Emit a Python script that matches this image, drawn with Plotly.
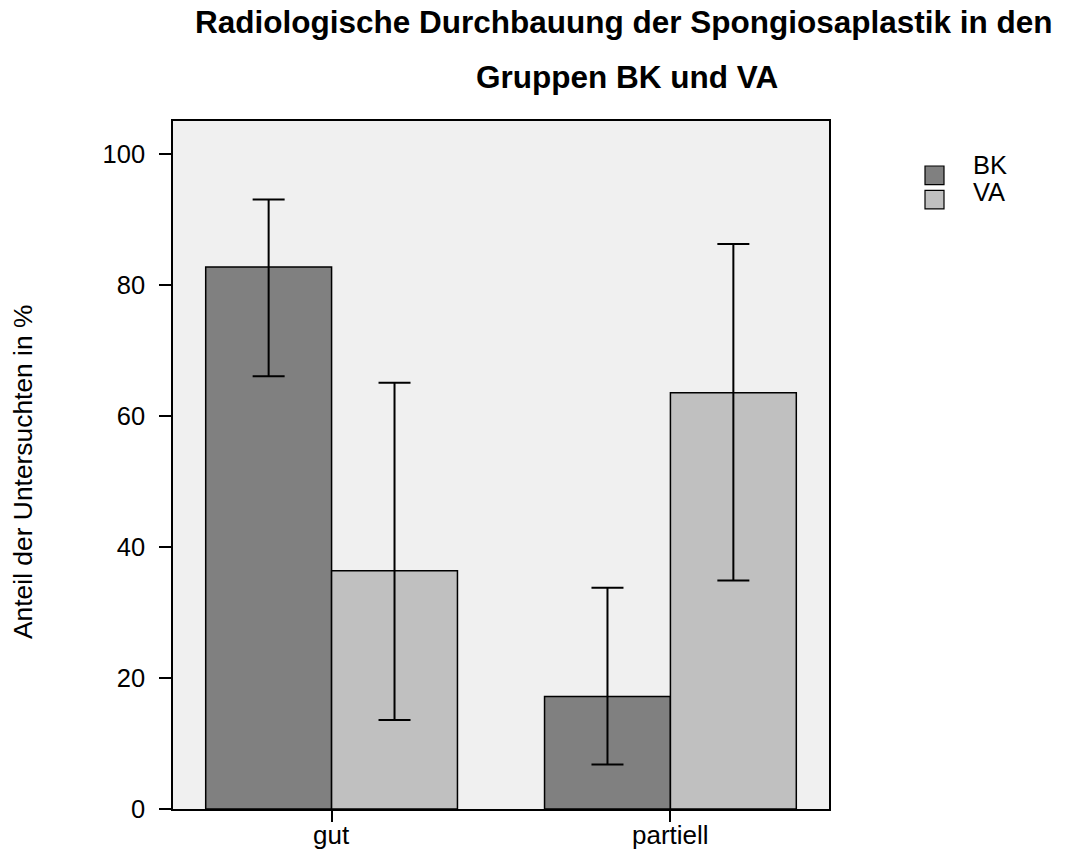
import plotly.graph_objects as go

# Kategorien und Gruppen
kategorien = ["gut", "partiell"]
gruppen = ["BK", "VA"]

# Anteil der Untersuchten in % je Gruppe
werte_bk = [82.8, 17.2]
werte_va = [36.4, 63.6]

# 95%-Konfidenzintervalle (untere / obere Grenze)
ki_unten_bk = [66.1, 6.8]
ki_oben_bk = [93.1, 33.8]
ki_unten_va = [13.6, 34.9]
ki_oben_va = [65.1, 86.3]

farben = {"BK": "#808080", "VA": "#c0c0c0"}
y_ticks = [0, 20, 40, 60, 80, 100]

FONT = "Liberation Sans, Arial, sans-serif"

# Plotbereich in Pixeln
L, R, T, B = 173, 237, 121, 45
W, H = 1066, 854
PW, PH = W - L - R, H - T - B


def px_x(p):
    return (p - L) / PW


def px_y(p):
    return (H - B - p) / PH


fig = go.Figure()

for name, werte, unten, oben in [
    ("BK", werte_bk, ki_unten_bk, ki_oben_bk),
    ("VA", werte_va, ki_unten_va, ki_oben_va),
]:
    fig.add_trace(go.Bar(
        x=kategorien,
        y=werte,
        name=name,
        marker=dict(color=farben[name], line=dict(color="black", width=1.5)),
        error_y=dict(
            type="data",
            symmetric=False,
            array=[o - w for o, w in zip(oben, werte)],
            arrayminus=[w - u for w, u in zip(werte, unten)],
            color="black",
            thickness=2,
            width=16,
        ),
        showlegend=False,
    ))

fig.update_layout(
    width=W,
    height=H,
    margin=dict(l=L, r=R, t=T, b=B),
    paper_bgcolor="white",
    plot_bgcolor="#f0f0f0",
    barmode="group",
    bargap=0.257,
    bargroupgap=0,
    font=dict(family=FONT, color="black", size=20),
    xaxis=dict(
        type="category",
        range=[-0.468, 1.468],
        automargin=False,
        showline=True, linecolor="black", linewidth=1.5, mirror=True,
        ticks="outside", ticklen=11, tickwidth=1.5, tickcolor="black",
        showticklabels=False,
        showgrid=False, zeroline=False,
    ),
    yaxis=dict(
        range=[0, 105.1],
        tickvals=y_ticks,
        automargin=False,
        showline=True, linecolor="black", linewidth=1.5, mirror=True,
        ticks="outside", ticklen=12, tickwidth=1.5, tickcolor="black",
        tickfont=dict(size=25.5),
        ticklabelstandoff=9,
        showgrid=False, zeroline=False,
    ),
)

# Kategorienbeschriftung unter der x-Achse
for kat in kategorien:
    fig.add_annotation(
        text=kat, xref="x", yref="paper", x=kat, y=px_y(835),
        xanchor="center", yanchor="middle", showarrow=False,
        font=dict(size=26, family=FONT),
    )

# Achsentitel
fig.add_annotation(
    text="Anteil der Untersuchten in %",
    xref="paper", yref="paper", x=px_x(23), y=px_y(472),
    xanchor="center", yanchor="middle", textangle=-90, showarrow=False,
    font=dict(size=26.4, family=FONT),
)

# Titel
fig.add_annotation(
    text="<b>Radiologische Durchbauung der Spongiosaplastik in den</b>",
    xref="paper", yref="paper", x=px_x(624), y=px_y(22),
    xanchor="center", yanchor="middle", showarrow=False,
    font=dict(size=31.5, family=FONT),
)
fig.add_annotation(
    text="<b>Gruppen BK und VA</b>",
    xref="paper", yref="paper", x=px_x(626.5), y=px_y(77.5),
    xanchor="center", yanchor="middle", showarrow=False,
    font=dict(size=31.5, family=FONT),
)

# Legende
for i, name in enumerate(gruppen):
    y0 = 166 + i * 24.3
    fig.add_shape(
        type="rect", xref="paper", yref="paper",
        x0=px_x(925), x1=px_x(944), y0=px_y(y0 + 18.6), y1=px_y(y0),
        fillcolor=farben[name], line=dict(color="black", width=1.2),
    )
    fig.add_annotation(
        text=name, xref="paper", yref="paper",
        x=px_x(971), y=px_y(165 + i * 27),
        xanchor="left", yanchor="middle", showarrow=False,
        font=dict(size=25.5, family=FONT),
    )

fig.write_html("out.html")
